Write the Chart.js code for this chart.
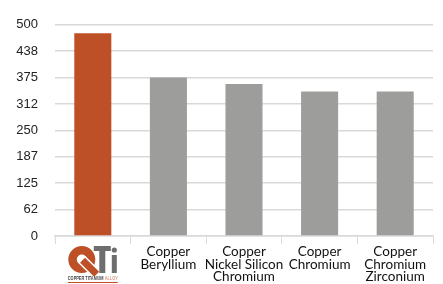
<!DOCTYPE html>
<html>
<head>
<meta charset="utf-8">
<script src="https://cdn.jsdelivr.net/npm/chart.js@4"></script>
<style>
    html, body { margin: 0; padding: 0; background: #fff; }
    #wrap { width: 443px; height: 284px; }
</style>
</head>
<body>
<div id="wrap"><canvas id="alloyChart"></canvas></div>
<script>
// --- data ---
const categories = ['QTi', ['Copper', 'Beryllium'], ['Copper', 'Nickel Silicon', 'Chromium'], ['Copper', 'Chromium'], ['Copper', 'Chromium', 'Zirconium']];
const values = [480, 375, 360, 342, 342];
const barColors = ['#BE5027', '#9D9E9C', '#9D9E9C', '#9D9E9C', '#9D9E9C'];
const yTickLabels = ['0', '62', '125', '187', '250', '312', '375', '438', '500'];

// draws the QTi logo in place of the first category label
const logoPlugin = {
    id: 'qtiLogo',
    afterDraw(chart) {
        const ctx = chart.ctx;
        const x = chart.scales.x.getPixelForValue(0);
        const top = chart.chartArea.bottom + 10;
        ctx.save();
        // Q ring
        const cx = x - 11, cy = top + 13.5;
        ctx.fillStyle = '#BE5027';
        ctx.beginPath();
        ctx.arc(cx, cy, 13.5, 0, Math.PI * 2);
        ctx.arc(cx, cy, 5, 0, Math.PI * 2, true);
        ctx.fill('evenodd');
        // Q tail
        ctx.translate(cx, cy);
        ctx.rotate(Math.PI / 4);
        ctx.fillStyle = '#ffffff';
        ctx.fillRect(0, -5, 22, 10);
        ctx.fillStyle = '#BE5027';
        ctx.fillRect(1, -3.5, 20, 7);
        ctx.setTransform(1, 0, 0, 1, 0, 0);
        // Ti
        ctx.fillStyle = '#6E6E6E';
        ctx.fillRect(x + 1, top, 17, 5);
        ctx.fillRect(x + 6.5, top, 6, 27);
        ctx.fillRect(x + 19, top + 9, 5, 18);
        ctx.beginPath();
        ctx.arc(x + 21.5, top + 4, 2.6, 0, Math.PI * 2);
        ctx.fill();
        // caption, squeezed to the logo width
        const left = x - 25, width = 50;
        ctx.font = 'bold 5px "Liberation Sans"';
        ctx.textBaseline = 'middle';
        ctx.textAlign = 'left';
        const part1 = 'COPPER TITANIUM ';
        const part2 = 'ALLOY';
        const w1 = ctx.measureText(part1).width;
        const w2 = ctx.measureText(part2).width;
        const k = width / (w1 + w2);
        ctx.translate(left, top + 32.5);
        ctx.scale(k, 1);
        ctx.fillStyle = '#444444';
        ctx.fillText(part1, 0, 0);
        ctx.fillStyle = '#D9967C';
        ctx.fillText(part2, w1, 0);
        ctx.setTransform(1, 0, 0, 1, 0, 0);
        ctx.fillStyle = '#BE5027';
        ctx.fillRect(left, top + 36, width, 1);
        ctx.restore();
    }
};

const ctx = document.getElementById('alloyChart').getContext('2d');

new Chart(ctx, {
    type: 'bar',
    data: {
        labels: categories,
        datasets: [{
            data: values,
            backgroundColor: barColors,
            borderWidth: 0,
            categoryPercentage: 1,
            barPercentage: 0.49
        }]
    },
    options: {
        responsive: true,
        maintainAspectRatio: false,
        animation: false,
        layout: {
            padding: { top: 18, right: 10, left: 0, bottom: 0 }
        },
        plugins: {
            legend: { display: false },
            tooltip: { enabled: false }
        },
        scales: {
            y: {
                min: 0,
                max: 500,
                afterFit: (scale) => { scale.width = 55; },
                ticks: {
                    stepSize: 62.5,
                    padding: 17,
                    color: '#222',
                    font: { family: '"Liberation Sans", Arial', size: 13 },
                    callback: (value, index) => yTickLabels[index]
                },
                grid: {
                    color: '#D9D9D9',
                    lineWidth: 1.5,
                    drawTicks: false
                },
                border: { display: false }
            },
            x: {
                afterFit: (scale) => { scale.height = 48; },
                ticks: {
                    padding: 1,
                    maxRotation: 0,
                    autoSkip: false,
                    color: '#111',
                    font: { family: 'Lato, "Open Sans"', size: 13.5, lineHeight: 0.95 },
                    callback: (value, index) => (index === 0 ? '' : categories[index])
                },
                grid: {
                    offset: true,
                    drawOnChartArea: false,
                    drawTicks: true,
                    tickLength: 8,
                    color: '#D9D9D9'
                },
                border: { display: true, color: '#D9D9D9', width: 1.5 }
            }
        }
    },
    plugins: [logoPlugin]
});
</script>
</body>
</html>
